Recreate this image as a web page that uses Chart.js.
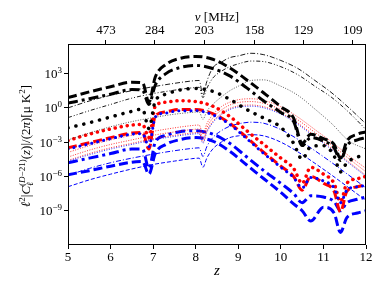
<!DOCTYPE html>
<html>
<head>
<meta charset="utf-8">
<script src="https://cdn.jsdelivr.net/npm/chart.js@4.4.1/dist/chart.umd.min.js"></script>
<style>
  html, body { margin: 0; padding: 0; background: #fff; }
  #wrap { width: 388px; height: 291px; }
</style>
</head>
<body>
<div id="wrap"><canvas id="chart" width="388" height="291"></canvas></div>
<script>
// redshift samples
const zThick = [5, 5.5, 6, 6.5, 6.75, 6.9, 7.05, 7.3, 7.6, 8.0, 8.4, 8.8, 9.2, 9.6, 10.0, 10.3, 10.5, 10.7, 11.0, 11.25, 11.4, 11.55, 11.8, 12];
const zThin = [5, 5.5, 6, 6.5, 7.0, 7.5, 7.9, 8.08, 8.17, 8.26, 8.4, 8.6, 8.8, 9.0, 9.3, 9.6, 10.0, 10.4, 10.8, 11.2, 11.6, 12];

// thick curves (on zThick)
const blackDashed = [7.9, 25, 71, 178, 158, 3.2, 500, 6300, 2.0e4, 3.2e4, 1.8e4, 3.2e3, 280, 20, 1.26, 0.126, 7.9e-4, 5.0e-3, 2.0e-3, 6.3e-4, 4.0e-5, 1.26e-3, 5.0e-3, 7.9e-3];
const blackDashDot = [2.6, 6.3, 15.8, 40, 35, 2.0, 100, 1000, 3160, 5250, 2820, 630, 56, 4.0, 0.4, 0.063, 5.0e-4, 2.5e-3, 1.26e-3, 3.2e-4, 2.5e-5, 5.0e-4, 1.58e-3, 2.5e-3];
const blackDotted = [0.0178, 0.05, 0.158, 0.5, 0.79, 0.0158, 4.0, 15.8, 35, 50, 28, 5.6, 0.71, 0.126, 0.02, 7.9e-4, 3.2e-5, 4.0e-4, 5.0e-4, 6.3e-5, 2.5e-6, 1.58e-5, 5.0e-5, 7.9e-5];
const redDotted = [1.4e-3, 5.0e-3, 0.0141, 0.0316, 0.0355, 2.5e-3, 1.41, 3.16, 4.2, 3.55, 1.41, 0.178, 0.01, 6.3e-4, 4.0e-5, 5.0e-6, 2.5e-7, 6.3e-6, 1.58e-6, 2.5e-7, 6.3e-9, 2.5e-7, 6.3e-7, 1.0e-6];
const redDashed = [3.2e-4, 8.9e-4, 2.5e-3, 6.3e-3, 7.1e-3, 2.5e-4, 0.2, 0.45, 0.71, 0.71, 0.32, 0.045, 2.5e-3, 1.26e-4, 7.9e-6, 1.0e-6, 6.3e-8, 1.0e-6, 2.5e-7, 5.0e-8, 7.9e-10, 5.0e-8, 1.26e-7, 2.0e-7];
const blueDotted = [2.5e-4, 7.1e-4, 2.0e-3, 5.0e-3, 5.6e-3, 4.0e-4, 0.158, 0.355, 0.56, 0.56, 0.25, 0.0355, 2.0e-3, 1.0e-4, 6.3e-6, 7.9e-7, 1.0e-7, 7.9e-7, 4.0e-7, 1.0e-7, 5.0e-9, 6.3e-8, 1.26e-7, 1.58e-7];
const blueDashDot = [1.58e-5, 4.0e-5, 1.0e-4, 2.5e-4, 2.5e-4, 5.0e-6, 1.0e-3, 4.0e-3, 7.9e-3, 0.01, 5.0e-3, 7.9e-4, 5.0e-5, 3.2e-6, 2.5e-7, 3.2e-8, 5.0e-9, 2.0e-8, 1.58e-8, 6.3e-9, 1.0e-9, 5.0e-9, 1.0e-8, 1.58e-8];
const blueDashed = [1.4e-6, 3.2e-6, 7.9e-6, 1.78e-5, 2.0e-5, 1.58e-6, 1.0e-4, 6.3e-4, 1.58e-3, 2.5e-3, 1.26e-3, 1.58e-4, 1.0e-5, 6.3e-7, 4.0e-8, 4.0e-9, 1.0e-9, 1.26e-10, 2.0e-9, 6.3e-10, 1.26e-11, 2.5e-10, 6.3e-10, 1.0e-9];

// thin curves (on zThin)
const thinBlackTop = [1.0, 4.0, 12.6, 32, 71, 141, 224, 251, 12.6, 200, 3160, 1.0e4, 2.5e4, 3.55e4, 6.0e4, 4.5e4, 1.41e4, 2800, 251, 20, 1.0, 0.04];
const thinBlackMid = [0.141, 0.56, 2.0, 7.1, 17.8, 35.5, 56, 63, 7.9, 50, 400, 1580, 4000, 7100, 1.26e4, 1.12e4, 4000, 790, 79, 7.9, 0.4, 0.0126];
const thinBlackDotted = [1.58e-3, 6.3e-3, 0.0224, 0.063, 0.141, 0.28, 0.4, 0.45, 0.1, 0.5, 2.0, 8.9, 31.6, 79, 251, 282, 79, 12.6, 0.79, 0.04, 1.26e-3, 2.5e-4];
const thinRed1 = [1.26e-4, 5.0e-4, 1.58e-3, 4.0e-3, 8.9e-3, 0.0178, 0.028, 0.0316, 5.0e-3, 0.04, 0.25, 1.26, 3.16, 5.2, 6.3, 4.5, 1.26, 0.158, 0.0126, 1.0e-3, 6.3e-5, 5.0e-6];
const thinRed2 = [5.0e-5, 2.0e-4, 6.3e-4, 1.58e-3, 4.0e-3, 7.9e-3, 0.0126, 0.0141, 2.0e-3, 0.0178, 0.126, 0.63, 1.78, 2.95, 3.55, 2.5, 0.71, 0.089, 7.1e-3, 5.6e-4, 3.55e-5, 2.5e-6];
const thinRed3 = [2.5e-5, 1.0e-4, 3.2e-4, 7.9e-4, 2.0e-3, 4.0e-3, 6.3e-3, 7.1e-3, 1.0e-3, 8.9e-3, 0.063, 0.316, 0.89, 1.48, 1.78, 1.26, 0.355, 0.045, 3.55e-3, 2.8e-4, 1.78e-5, 1.26e-6];
const thinBlueDotted = [2.2e-5, 7.9e-5, 2.5e-4, 6.3e-4, 1.58e-3, 3.2e-3, 5.0e-3, 5.6e-3, 7.9e-4, 7.1e-3, 0.05, 0.25, 0.71, 1.17, 1.41, 1.0, 0.28, 0.0355, 2.8e-3, 2.2e-4, 1.41e-5, 1.0e-6];
const thinBlueDashDot = [1.26e-6, 5.0e-6, 1.58e-5, 4.0e-5, 8.9e-5, 1.78e-4, 2.8e-4, 3.2e-4, 5.6e-5, 4.0e-4, 2.5e-3, 0.01, 0.025, 0.04, 0.056, 0.045, 0.0126, 1.78e-3, 1.78e-4, 1.58e-5, 1.26e-6, 1.0e-7];
const thinBlueDashed = [1.26e-7, 5.0e-7, 1.58e-6, 4.5e-6, 1.12e-5, 2.2e-5, 3.55e-5, 4.0e-5, 6.3e-6, 4.0e-5, 2.5e-4, 1.0e-3, 2.5e-3, 3.55e-3, 4.5e-3, 3.55e-3, 1.0e-3, 1.41e-4, 1.41e-5, 1.26e-6, 1.0e-7, 7.9e-9];

// axes
const topTickPos = [5.89, 7.04, 8.2, 9.38, 10.53, 11.69];
const topTickLabels = ['473', '284', '203', '158', '129', '109'];
const yTickVals = [1e3, 1, 1e-3, 1e-6, 1e-9];
const yTickExp = ['3', '0', '\u22123', '\u22126', '\u22129'];

const SERIF = '"Liberation Serif", "DejaVu Serif", serif';
const toPoints = (zs, vals) => zs.map((z, i) => ({ x: z, y: vals[i] }));

const line = (zs, vals, color, width, dash, cap = 'butt') => ({
  data: toPoints(zs, vals),
  borderColor: color,
  borderWidth: width,
  borderDash: dash,
  borderCapStyle: cap,
  pointRadius: 0,
  fill: false,
  cubicInterpolationMode: 'monotone',
});

// first dataset is drawn on top
const datasets = [
  line(zThick, blackDashed, '#000', 3, [9, 4]),
  line(zThick, blackDashDot, '#000', 3, [10, 4, 3, 4]),
  line(zThick, blackDotted, '#000', 3.5, [0.1, 8], 'round'),
  line(zThin, thinBlackTop, '#000', 0.9, [5, 2, 1, 2]),
  line(zThin, thinBlackMid, '#000', 0.9, [4, 2, 1, 2, 1, 2]),
  line(zThin, thinBlackDotted, '#333', 0.8, [1, 1.5]),
  line(zThick, blueDotted, '#0000ff', 3, [0.1, 6], 'round'),
  line(zThick, redDotted, '#ff0000', 3.5, [0.1, 6], 'round'),
  line(zThick, redDashed, '#ff0000', 3, [9, 4]),
  line(zThin, thinBlueDotted, '#0000ff', 0.8, [1, 1.5]),
  line(zThin, thinRed1, '#ff0000', 0.8, [1, 1.5]),
  line(zThin, thinRed2, '#ff0000', 0.8, [1, 1.5]),
  line(zThin, thinRed3, '#ff0000', 0.8, [1, 1.5]),
  line(zThick, blueDashDot, '#0000ff', 3, [10, 4, 3, 4]),
  line(zThick, blueDashed, '#0000ff', 3, [9, 4]),
  line(zThin, thinBlueDashDot, '#0000ff', 1, [5, 2, 1, 2]),
  line(zThin, thinBlueDashed, '#0000ff', 1, [4, 2]),
];

function drawRich(ctx, segs, size, supSize) {
  // measure then draw left to right from the current origin (centred)
  let total = 0;
  const pieces = segs.map((s) => {
    const fs = s.sup || s.sub ? supSize : size;
    const font = `${s.it ? 'italic ' : ''}${fs}px ${SERIF}`;
    ctx.font = font;
    const w = ctx.measureText(s.t).width;
    if (!s.stack) total += w;
    return { ...s, font, w };
  });
  let x = -total / 2;
  pieces.forEach((p) => {
    ctx.font = p.font;
    const dy = p.sup ? -5 : p.sub ? 3 : 0;
    ctx.fillText(p.t, x, dy);
    if (!p.stack) x += p.w;
  });
}

const decorations = {
  id: 'decorations',
  afterDraw(chart) {
    const { ctx, chartArea: a } = chart;
    const y = chart.scales.y;
    ctx.save();
    ctx.strokeStyle = '#000';
    ctx.lineWidth = 1;
    ctx.strokeRect(a.left + 0.5, a.top + 0.5, a.right - a.left - 1, a.bottom - a.top - 1);

    ctx.fillStyle = '#000';
    ctx.textBaseline = 'alphabetic';
    // y tick labels 10^n
    yTickVals.forEach((v, i) => {
      const py = y.getPixelForValue(v);
      ctx.font = `13px ${SERIF}`;
      const wBase = ctx.measureText('10').width;
      ctx.font = `9px ${SERIF}`;
      const wExp = ctx.measureText(yTickExp[i]).width;
      const x0 = 62 - wBase - wExp;
      ctx.font = `13px ${SERIF}`;
      ctx.textAlign = 'left';
      ctx.fillText('10', x0, py + 4.5);
      ctx.font = `9px ${SERIF}`;
      ctx.fillText(yTickExp[i], x0 + wBase, py - 0.5);
    });

    // x title
    ctx.textAlign = 'center';
    ctx.font = `italic 15px ${SERIF}`;
    ctx.fillText('z', (a.left + a.right) / 2, 275);

    // top title
    ctx.save();
    ctx.translate((a.left + a.right) / 2, 21);
    ctx.textAlign = 'left';
    drawRich(ctx, [{ t: '\u03bd', it: true }, { t: ' [MHz]' }], 13, 9);
    ctx.restore();

    // y title
    ctx.save();
    ctx.translate(30, 146);
    ctx.rotate(-Math.PI / 2);
    ctx.textAlign = 'left';
    drawRich(ctx, [
      { t: '\u2113', it: true }, { t: '2', sup: true }, { t: '|' }, { t: 'C', it: true },
      { t: '\u2113', it: true, sub: true, stack: true },
      { t: '(', sup: true }, { t: 'D', it: true, sup: true }, { t: '\u221221)', sup: true },
      { t: '(' }, { t: 'z', it: true }, { t: ')|/(2' }, { t: '\u03c0', it: true },
      { t: ')[\u03bc K' }, { t: '2', sup: true }, { t: ']' },
    ], 13, 9);
    ctx.restore();
    ctx.restore();
  },
};

const tickGrid = { display: true, drawOnChartArea: false, drawTicks: true, tickLength: 4, color: '#000', lineWidth: 1 };

new Chart(document.getElementById('chart'), {
  type: 'line',
  data: { datasets },
  options: {
    responsive: false,
    animation: false,
    devicePixelRatio: 1,
    events: [],
    layout: { padding: { left: 0, right: 22, top: 0, bottom: 0 } },
    plugins: { legend: { display: false }, tooltip: { enabled: false } },
    scales: {
      x: {
        type: 'linear', position: 'bottom', min: 5, max: 12,
        grid: tickGrid, border: { display: false },
        ticks: { stepSize: 1, color: '#000', padding: 1, font: { family: SERIF, size: 13 }, maxRotation: 0 },
        afterFit: (s) => { s.height = 46; },
      },
      x2: {
        type: 'linear', position: 'top', min: 5, max: 12,
        grid: tickGrid, border: { display: false },
        afterBuildTicks: (s) => { s.ticks = topTickPos.map((v) => ({ value: v })); },
        ticks: { color: '#000', padding: 2, autoSkip: false, maxRotation: 0, font: { family: SERIF, size: 13 }, callback: (v, i) => topTickLabels[i] },
        afterFit: (s) => { s.height = 44; },
      },
      y: {
        type: 'logarithmic', min: 1e-12, max: 3.9e5,
        grid: tickGrid, border: { display: false },
        afterBuildTicks: (s) => { s.ticks = yTickVals.map((v) => ({ value: v })); },
        ticks: { display: false, autoSkip: false },
        afterFit: (s) => { s.width = 68; },
      },
    },
  },
  plugins: [decorations],
});
</script>
</body>
</html>
